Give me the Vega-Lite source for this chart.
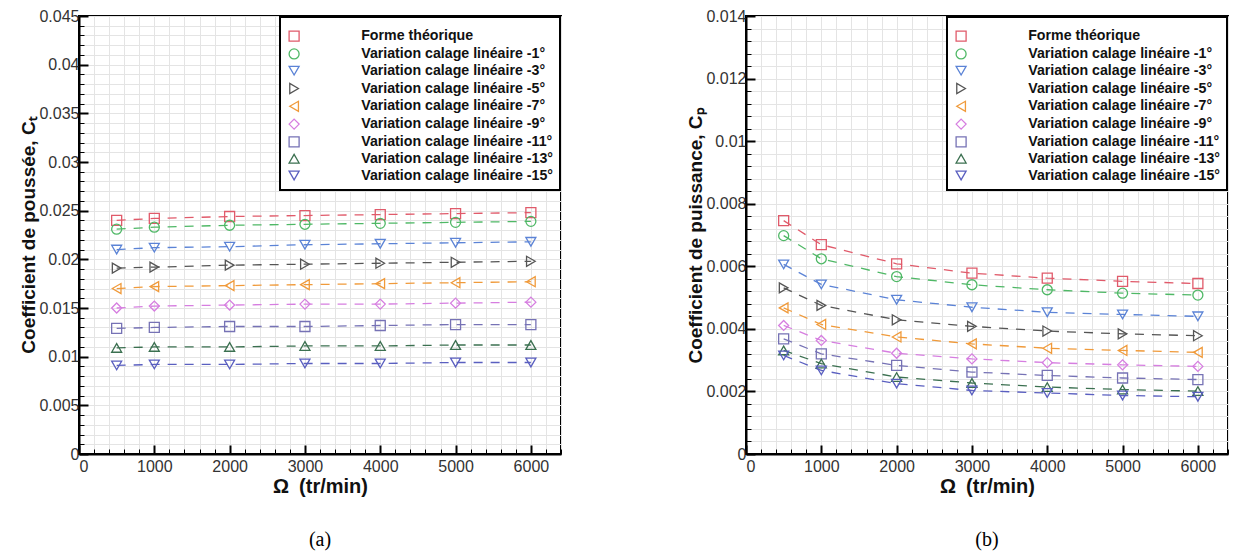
{
"$schema": "https://vega.github.io/schema/vega-lite/v6.json",
"background": "white",
"padding": {"left": 18, "top": 7, "right": 0, "bottom": 0},
"spacing": 122,
"config": {
  "view": {"stroke": "#000", "strokeWidth": 2},
  "axis": {"labelFont": "Liberation Sans", "titleFont": "Liberation Sans"},
  "legend": {"orient": "top-right", "offset": 1, "strokeColor": "#000", "strokeWidth": 2, "fillColor": "white", "padding": 7, "labelFont": "Liberation Sans", "labelFontSize": 14.2, "labelFontWeight": "bold", "labelColor": "#111", "symbolSize": 100, "symbolStrokeWidth": 1.3, "rowPadding": 1.8, "labelOffset": 60, "labelLimit": 400, "titleFontSize": 3, "titlePadding": 2}
},
"resolve": {"scale": {"color": "independent", "shape": "independent", "stroke": "independent"}, "legend": {"color": "independent", "shape": "independent"}},
"datasets": {
"ct": [
{"omega":500,"serie":"Forme théorique","v":0.0240},{"omega":1000,"serie":"Forme théorique","v":0.0242},{"omega":2000,"serie":"Forme théorique","v":0.0244},{"omega":3000,"serie":"Forme théorique","v":0.0245},{"omega":4000,"serie":"Forme théorique","v":0.0246},{"omega":5000,"serie":"Forme théorique","v":0.0247},{"omega":6000,"serie":"Forme théorique","v":0.0248},
{"omega":500,"serie":"Variation calage linéaire -1°","v":0.0231},{"omega":1000,"serie":"Variation calage linéaire -1°","v":0.0233},{"omega":2000,"serie":"Variation calage linéaire -1°","v":0.0235},{"omega":3000,"serie":"Variation calage linéaire -1°","v":0.0236},{"omega":4000,"serie":"Variation calage linéaire -1°","v":0.0237},{"omega":5000,"serie":"Variation calage linéaire -1°","v":0.0238},{"omega":6000,"serie":"Variation calage linéaire -1°","v":0.0239},
{"omega":500,"serie":"Variation calage linéaire -3°","v":0.0210},{"omega":1000,"serie":"Variation calage linéaire -3°","v":0.0212},{"omega":2000,"serie":"Variation calage linéaire -3°","v":0.0213},{"omega":3000,"serie":"Variation calage linéaire -3°","v":0.0215},{"omega":4000,"serie":"Variation calage linéaire -3°","v":0.0216},{"omega":5000,"serie":"Variation calage linéaire -3°","v":0.0217},{"omega":6000,"serie":"Variation calage linéaire -3°","v":0.0218},
{"omega":500,"serie":"Variation calage linéaire -5°","v":0.0191},{"omega":1000,"serie":"Variation calage linéaire -5°","v":0.0192},{"omega":2000,"serie":"Variation calage linéaire -5°","v":0.0194},{"omega":3000,"serie":"Variation calage linéaire -5°","v":0.0195},{"omega":4000,"serie":"Variation calage linéaire -5°","v":0.0196},{"omega":5000,"serie":"Variation calage linéaire -5°","v":0.0197},{"omega":6000,"serie":"Variation calage linéaire -5°","v":0.0198},
{"omega":500,"serie":"Variation calage linéaire -7°","v":0.0170},{"omega":1000,"serie":"Variation calage linéaire -7°","v":0.0172},{"omega":2000,"serie":"Variation calage linéaire -7°","v":0.0173},{"omega":3000,"serie":"Variation calage linéaire -7°","v":0.0174},{"omega":4000,"serie":"Variation calage linéaire -7°","v":0.0175},{"omega":5000,"serie":"Variation calage linéaire -7°","v":0.0176},{"omega":6000,"serie":"Variation calage linéaire -7°","v":0.0177},
{"omega":500,"serie":"Variation calage linéaire -9°","v":0.0150},{"omega":1000,"serie":"Variation calage linéaire -9°","v":0.0152},{"omega":2000,"serie":"Variation calage linéaire -9°","v":0.0153},{"omega":3000,"serie":"Variation calage linéaire -9°","v":0.0154},{"omega":4000,"serie":"Variation calage linéaire -9°","v":0.0154},{"omega":5000,"serie":"Variation calage linéaire -9°","v":0.0155},{"omega":6000,"serie":"Variation calage linéaire -9°","v":0.0156},
{"omega":500,"serie":"Variation calage linéaire -11°","v":0.0129},{"omega":1000,"serie":"Variation calage linéaire -11°","v":0.0130},{"omega":2000,"serie":"Variation calage linéaire -11°","v":0.0131},{"omega":3000,"serie":"Variation calage linéaire -11°","v":0.0131},{"omega":4000,"serie":"Variation calage linéaire -11°","v":0.0132},{"omega":5000,"serie":"Variation calage linéaire -11°","v":0.0133},{"omega":6000,"serie":"Variation calage linéaire -11°","v":0.0133},
{"omega":500,"serie":"Variation calage linéaire -13°","v":0.0109},{"omega":1000,"serie":"Variation calage linéaire -13°","v":0.0110},{"omega":2000,"serie":"Variation calage linéaire -13°","v":0.0110},{"omega":3000,"serie":"Variation calage linéaire -13°","v":0.0111},{"omega":4000,"serie":"Variation calage linéaire -13°","v":0.0111},{"omega":5000,"serie":"Variation calage linéaire -13°","v":0.0112},{"omega":6000,"serie":"Variation calage linéaire -13°","v":0.0112},
{"omega":500,"serie":"Variation calage linéaire -15°","v":0.0091},{"omega":1000,"serie":"Variation calage linéaire -15°","v":0.0092},{"omega":2000,"serie":"Variation calage linéaire -15°","v":0.0092},{"omega":3000,"serie":"Variation calage linéaire -15°","v":0.0093},{"omega":4000,"serie":"Variation calage linéaire -15°","v":0.0093},{"omega":5000,"serie":"Variation calage linéaire -15°","v":0.0094},{"omega":6000,"serie":"Variation calage linéaire -15°","v":0.0094}
],
"cp": [
{"omega":500,"serie":"Forme théorique","v":0.00746},{"omega":1000,"serie":"Forme théorique","v":0.00669},{"omega":2000,"serie":"Forme théorique","v":0.00608},{"omega":3000,"serie":"Forme théorique","v":0.00578},{"omega":4000,"serie":"Forme théorique","v":0.00562},{"omega":5000,"serie":"Forme théorique","v":0.00552},{"omega":6000,"serie":"Forme théorique","v":0.00545},
{"omega":500,"serie":"Variation calage linéaire -1°","v":0.00698},{"omega":1000,"serie":"Variation calage linéaire -1°","v":0.00624},{"omega":2000,"serie":"Variation calage linéaire -1°","v":0.00567},{"omega":3000,"serie":"Variation calage linéaire -1°","v":0.00541},{"omega":4000,"serie":"Variation calage linéaire -1°","v":0.00525},{"omega":5000,"serie":"Variation calage linéaire -1°","v":0.00514},{"omega":6000,"serie":"Variation calage linéaire -1°","v":0.00508},
{"omega":500,"serie":"Variation calage linéaire -3°","v":0.00606},{"omega":1000,"serie":"Variation calage linéaire -3°","v":0.00542},{"omega":2000,"serie":"Variation calage linéaire -3°","v":0.00493},{"omega":3000,"serie":"Variation calage linéaire -3°","v":0.00469},{"omega":4000,"serie":"Variation calage linéaire -3°","v":0.00453},{"omega":5000,"serie":"Variation calage linéaire -3°","v":0.00446},{"omega":6000,"serie":"Variation calage linéaire -3°","v":0.00440},
{"omega":500,"serie":"Variation calage linéaire -5°","v":0.00531},{"omega":1000,"serie":"Variation calage linéaire -5°","v":0.00475},{"omega":2000,"serie":"Variation calage linéaire -5°","v":0.00429},{"omega":3000,"serie":"Variation calage linéaire -5°","v":0.00408},{"omega":4000,"serie":"Variation calage linéaire -5°","v":0.00393},{"omega":5000,"serie":"Variation calage linéaire -5°","v":0.00384},{"omega":6000,"serie":"Variation calage linéaire -5°","v":0.00378},
{"omega":500,"serie":"Variation calage linéaire -7°","v":0.00467},{"omega":1000,"serie":"Variation calage linéaire -7°","v":0.00414},{"omega":2000,"serie":"Variation calage linéaire -7°","v":0.00374},{"omega":3000,"serie":"Variation calage linéaire -7°","v":0.00352},{"omega":4000,"serie":"Variation calage linéaire -7°","v":0.00338},{"omega":5000,"serie":"Variation calage linéaire -7°","v":0.00331},{"omega":6000,"serie":"Variation calage linéaire -7°","v":0.00325},
{"omega":500,"serie":"Variation calage linéaire -9°","v":0.00411},{"omega":1000,"serie":"Variation calage linéaire -9°","v":0.00363},{"omega":2000,"serie":"Variation calage linéaire -9°","v":0.00322},{"omega":3000,"serie":"Variation calage linéaire -9°","v":0.00304},{"omega":4000,"serie":"Variation calage linéaire -9°","v":0.00292},{"omega":5000,"serie":"Variation calage linéaire -9°","v":0.00285},{"omega":6000,"serie":"Variation calage linéaire -9°","v":0.00280},
{"omega":500,"serie":"Variation calage linéaire -11°","v":0.00368},{"omega":1000,"serie":"Variation calage linéaire -11°","v":0.00320},{"omega":2000,"serie":"Variation calage linéaire -11°","v":0.00283},{"omega":3000,"serie":"Variation calage linéaire -11°","v":0.00262},{"omega":4000,"serie":"Variation calage linéaire -11°","v":0.00251},{"omega":5000,"serie":"Variation calage linéaire -11°","v":0.00243},{"omega":6000,"serie":"Variation calage linéaire -11°","v":0.00238},
{"omega":500,"serie":"Variation calage linéaire -13°","v":0.00331},{"omega":1000,"serie":"Variation calage linéaire -13°","v":0.00289},{"omega":2000,"serie":"Variation calage linéaire -13°","v":0.00246},{"omega":3000,"serie":"Variation calage linéaire -13°","v":0.00227},{"omega":4000,"serie":"Variation calage linéaire -13°","v":0.00214},{"omega":5000,"serie":"Variation calage linéaire -13°","v":0.00206},{"omega":6000,"serie":"Variation calage linéaire -13°","v":0.00201},
{"omega":500,"serie":"Variation calage linéaire -15°","v":0.00315},{"omega":1000,"serie":"Variation calage linéaire -15°","v":0.00267},{"omega":2000,"serie":"Variation calage linéaire -15°","v":0.00225},{"omega":3000,"serie":"Variation calage linéaire -15°","v":0.00203},{"omega":4000,"serie":"Variation calage linéaire -15°","v":0.00195},{"omega":5000,"serie":"Variation calage linéaire -15°","v":0.00187},{"omega":6000,"serie":"Variation calage linéaire -15°","v":0.00183}
]
},
"hconcat": [
{
 "width": 482, "height": 438,
 "view": {"stroke": "#000", "strokeWidth": 2},
 "data": {"name": "ct"},
 "title": {"text": "(a)", "orient": "bottom", "frame": "group", "anchor": "middle", "offset": 34, "font": "Liberation Serif", "fontSize": 20, "fontWeight": "normal", "color": "#000"},
 "resolve": {"axis": {"x": "independent", "y": "independent"}},
 "layer": [
  {"mark": {"type": "line", "strokeDash": [9, 8], "strokeWidth": 1.3},
   "encoding": {
    "x": {"field": "omega", "type": "quantitative", "scale": {"domain": [0, 6400], "nice": false, "zero": false},
      "axis": {"orient": "bottom", "values": [0,200,400,600,800,1000,1200,1400,1600,1800,2000,2200,2400,2600,2800,3000,3200,3400,3600,3800,4000,4200,4400,4600,4800,5000,5200,5400,5600,5800,6000,6200,6400], "grid": true, "gridColor": "#e4e4e4", "gridWidth": 1, "labels": false, "domain": false, "ticks": true, "tickSize": -5, "tickColor": "#000", "tickWidth": 1, "title": null}},
    "y": {"field": "v", "type": "quantitative", "scale": {"domain": [0, 0.045], "nice": false, "zero": false},
      "axis": {"orient": "left", "values": [0,0.001,0.002,0.003,0.004,0.005,0.006,0.007,0.008,0.009,0.01,0.011,0.012,0.013,0.014,0.015,0.016,0.017,0.018,0.019,0.02,0.021,0.022,0.023,0.024,0.025,0.026,0.027,0.028,0.029,0.03,0.031,0.032,0.033,0.034,0.035,0.036,0.037,0.038,0.039,0.04,0.041,0.042,0.043,0.044,0.045], "grid": true, "gridColor": "#e4e4e4", "gridWidth": 1, "labels": false, "domain": false, "ticks": true, "tickSize": -5, "tickColor": "#000", "tickWidth": 1, "title": null}},
    "stroke": {"field": "serie", "type": "nominal", "legend": null,
      "scale": {"domain": ["Variation calage linéaire -15°","Variation calage linéaire -13°","Variation calage linéaire -11°","Variation calage linéaire -9°","Variation calage linéaire -7°","Variation calage linéaire -5°","Variation calage linéaire -3°","Variation calage linéaire -1°","Forme théorique"],
                "range": ["#5a5fc0","#3b7050","#7672b5","#d67ee0","#f09a3a","#555555","#5b83d6","#4fb866","#e05a6a"]}}
   }},
  {"mark": {"type": "point", "filled": false, "size": 100, "strokeWidth": 1.3, "opacity": 1},
   "encoding": {
    "x": {"field": "omega", "type": "quantitative", "scale": {"domain": [0, 6400], "nice": false, "zero": false},
      "axis": {"orient": "bottom", "values": [0,1000,2000,3000,4000,5000,6000], "format": "d", "grid": false, "domain": true, "domainColor": "#000", "domainWidth": 2, "ticks": true, "tickSize": -9, "tickWidth": 2, "tickColor": "#000", "labelFontSize": 16, "labelColor": "#333", "labelPadding": 13, "title": "Ω\u2002(tr/min)", "titleFontSize": 20, "titleFontWeight": "bold", "titleColor": "#111", "titlePadding": 2}},
    "y": {"field": "v", "type": "quantitative", "scale": {"domain": [0, 0.045], "nice": false, "zero": false},
      "axis": {"orient": "left", "values": [0,0.005,0.01,0.015,0.02,0.025,0.03,0.035,0.04,0.045], "format": ".3~f", "grid": false, "domain": true, "domainColor": "#000", "domainWidth": 2, "ticks": true, "tickSize": -9, "tickWidth": 2, "tickColor": "#000", "labelFontSize": 16, "labelColor": "#333", "labelPadding": 9, "title": "Coefficient de poussée, Cₜ", "titleFontSize": 19, "titleFontWeight": "bold", "titleColor": "#111", "titlePadding": 0}},
    "color": {"field": "serie", "type": "nominal", "legend": {"title": " "},
      "scale": {"domain": ["Forme théorique","Variation calage linéaire -1°","Variation calage linéaire -3°","Variation calage linéaire -5°","Variation calage linéaire -7°","Variation calage linéaire -9°","Variation calage linéaire -11°","Variation calage linéaire -13°","Variation calage linéaire -15°"],
                "range": ["#e05a6a","#4fb866","#5b83d6","#555555","#f09a3a","#d67ee0","#7672b5","#3b7050","#5a5fc0"]}},
    "shape": {"field": "serie", "type": "nominal", "legend": {"title": " "},
      "scale": {"domain": ["Forme théorique","Variation calage linéaire -1°","Variation calage linéaire -3°","Variation calage linéaire -5°","Variation calage linéaire -7°","Variation calage linéaire -9°","Variation calage linéaire -11°","Variation calage linéaire -13°","Variation calage linéaire -15°"],
                "range": ["square","circle","triangle-down","triangle-right","triangle-left","diamond","square","triangle-up","triangle-down"]}}
   }}
 ]
},
{
 "width": 482, "height": 438,
 "view": {"stroke": "#000", "strokeWidth": 2},
 "data": {"name": "cp"},
 "title": {"text": "(b)", "orient": "bottom", "frame": "group", "anchor": "middle", "offset": 34, "font": "Liberation Serif", "fontSize": 20, "fontWeight": "normal", "color": "#000"},
 "resolve": {"axis": {"x": "independent", "y": "independent"}},
 "layer": [
  {"mark": {"type": "line", "strokeDash": [9, 8], "strokeWidth": 1.3},
   "encoding": {
    "x": {"field": "omega", "type": "quantitative", "scale": {"domain": [0, 6400], "nice": false, "zero": false},
      "axis": {"orient": "bottom", "values": [0,200,400,600,800,1000,1200,1400,1600,1800,2000,2200,2400,2600,2800,3000,3200,3400,3600,3800,4000,4200,4400,4600,4800,5000,5200,5400,5600,5800,6000,6200,6400], "grid": true, "gridColor": "#e4e4e4", "gridWidth": 1, "labels": false, "domain": false, "ticks": true, "tickSize": -5, "tickColor": "#000", "tickWidth": 1, "title": null}},
    "y": {"field": "v", "type": "quantitative", "scale": {"domain": [0, 0.014], "nice": false, "zero": false},
      "axis": {"orient": "left", "values": [0,0.0004,0.0008,0.0012,0.0016,0.002,0.0024,0.0028,0.0032,0.0036,0.004,0.0044,0.0048,0.0052,0.0056,0.006,0.0064,0.0068,0.0072,0.0076,0.008,0.0084,0.0088,0.0092,0.0096,0.01,0.0104,0.0108,0.0112,0.0116,0.012,0.0124,0.0128,0.0132,0.0136,0.014], "grid": true, "gridColor": "#e4e4e4", "gridWidth": 1, "labels": false, "domain": false, "ticks": true, "tickSize": -5, "tickColor": "#000", "tickWidth": 1, "title": null}},
    "stroke": {"field": "serie", "type": "nominal", "legend": null,
      "scale": {"domain": ["Variation calage linéaire -15°","Variation calage linéaire -13°","Variation calage linéaire -11°","Variation calage linéaire -9°","Variation calage linéaire -7°","Variation calage linéaire -5°","Variation calage linéaire -3°","Variation calage linéaire -1°","Forme théorique"],
                "range": ["#5a5fc0","#3b7050","#7672b5","#d67ee0","#f09a3a","#555555","#5b83d6","#4fb866","#e05a6a"]}}
   }},
  {"mark": {"type": "point", "filled": false, "size": 100, "strokeWidth": 1.3, "opacity": 1},
   "encoding": {
    "x": {"field": "omega", "type": "quantitative", "scale": {"domain": [0, 6400], "nice": false, "zero": false},
      "axis": {"orient": "bottom", "values": [0,1000,2000,3000,4000,5000,6000], "format": "d", "grid": false, "domain": true, "domainColor": "#000", "domainWidth": 2, "ticks": true, "tickSize": -9, "tickWidth": 2, "tickColor": "#000", "labelFontSize": 16, "labelColor": "#333", "labelPadding": 13, "title": "Ω\u2002(tr/min)", "titleFontSize": 20, "titleFontWeight": "bold", "titleColor": "#111", "titlePadding": 2}},
    "y": {"field": "v", "type": "quantitative", "scale": {"domain": [0, 0.014], "nice": false, "zero": false},
      "axis": {"orient": "left", "values": [0,0.002,0.004,0.006,0.008,0.01,0.012,0.014], "format": ".3~f", "grid": false, "domain": true, "domainColor": "#000", "domainWidth": 2, "ticks": true, "tickSize": -9, "tickWidth": 2, "tickColor": "#000", "labelFontSize": 16, "labelColor": "#333", "labelPadding": 9, "title": "Coefficient de puissance, Cₚ", "titleFontSize": 19, "titleFontWeight": "bold", "titleColor": "#111", "titlePadding": 0}},
    "color": {"field": "serie", "type": "nominal", "legend": {"title": " "},
      "scale": {"domain": ["Forme théorique","Variation calage linéaire -1°","Variation calage linéaire -3°","Variation calage linéaire -5°","Variation calage linéaire -7°","Variation calage linéaire -9°","Variation calage linéaire -11°","Variation calage linéaire -13°","Variation calage linéaire -15°"],
                "range": ["#e05a6a","#4fb866","#5b83d6","#555555","#f09a3a","#d67ee0","#7672b5","#3b7050","#5a5fc0"]}},
    "shape": {"field": "serie", "type": "nominal", "legend": {"title": " "},
      "scale": {"domain": ["Forme théorique","Variation calage linéaire -1°","Variation calage linéaire -3°","Variation calage linéaire -5°","Variation calage linéaire -7°","Variation calage linéaire -9°","Variation calage linéaire -11°","Variation calage linéaire -13°","Variation calage linéaire -15°"],
                "range": ["square","circle","triangle-down","triangle-right","triangle-left","diamond","square","triangle-up","triangle-down"]}}
   }}
 ]
}
]
}
